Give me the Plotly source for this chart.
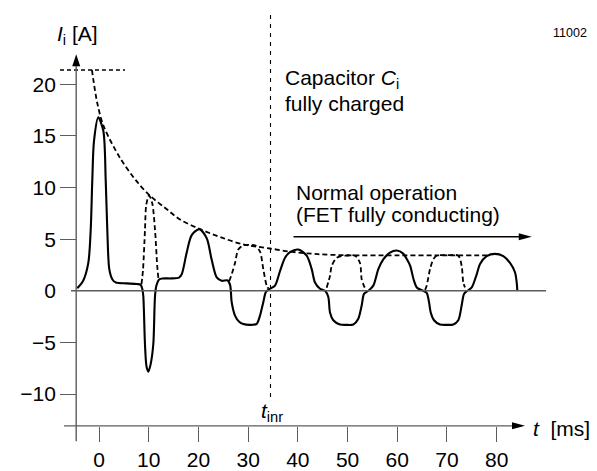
import plotly.graph_objects as go

# ---- input current I_i(t) during inrush, t in ms, I in A ----
t_current = [-4.37, -3.16, -2.15, -1.67, -1.35, -1.01, -0.14, 0.87, 1.35, 1.67, 2.07, 2.7, 3.4,
             5.5, 7.6, 8.35, 8.7, 8.91, 9.25, 9.55, 9.92, 10.35, 10.92, 11.27, 11.55, 12.1,
             12.8, 14.5, 16.1, 16.64, 17.64, 18.65, 20.18, 21.67, 22.67, 23.68, 24.68, 25.9,
             26.4, 26.69, 27.36, 28.2, 29.03, 30.38, 31.72, 32.39, 33.05, 33.59, 34.4, 35.41,
             36.41, 37.42, 38.42, 40.09, 41.78, 42.79, 43.45, 44.46, 45.47, 46.13, 46.47,
             47.13, 48.48, 49.8, 51.16, 52.16, 52.85, 53.31, 54.17, 55.18, 56.19, 57.19,
             58.54, 59.89, 61.2, 62.0, 62.62, 63.29, 63.97, 65.24, 65.92, 66.39, 66.73,
             67.39, 68.6, 69.9, 71.27, 72.28, 72.96, 73.43, 74.09, 74.98, 75.98, 76.65,
             77.99, 79.66, 81.33, 82.68, 83.68, 84.03, 84.15]
i_current = [0.25, 1.0, 2.7, 5.9, 10.7, 14.5, 16.8, 15.5, 10.7, 5.9, 2.1, 1.1, 0.8,
             0.72, 0.66, 0.6, 0.2, -0.5, -5.2, -7.3, -7.84, -7.2, -5.2, -0.5, 0.5, 1.1,
             1.2, 1.2, 1.28, 1.6, 3.7, 5.4, 5.97, 5.1, 3.0, 1.3, 0.97, 1.0,
             0.5, -1.1, -2.4, -3.0, -3.22, -3.3, -3.2, -2.4, -1.1, -0.1, 0.2, 0.5,
             1.9, 3.2, 3.75, 4.0, 3.4, 2.1, 0.8, 0.2, 0.0, -0.6, -2.1,
             -2.85, -3.26, -3.3, -3.26, -2.7, -1.4, -0.3, 0.0, 0.5, 2.1, 3.05,
             3.7, 3.9, 3.6, 3.0, 2.4, 1.1, 0.3, 0.0, -0.2, -1.1, -2.1,
             -2.85, -3.26, -3.3, -3.26, -2.85, -1.4, -0.3, 0.0, 0.33, 1.6, 2.6,
             3.36, 3.58, 3.36, 2.7, 1.8, 0.8, 0.0]

# ---- alternative half-waves once the FET conducts (dashed) ----
t_fet = [8.55, 8.85, 9.25, 9.5, 10.06, 10.7, 11.27, 11.7, 11.95, None,
         26.2, 26.69, 27.36, 28.02, 29.03, 30.2, 31.38, 32.39, 33.05, 33.73, 34.1, None,
         45.8, 46.47, 46.81, 47.82, 49.49, 51.5, 52.5, 52.85, 53.51, None,
         65.6, 65.92, 66.59, 67.25, 67.93, 70.1, 72.28, 72.96, 73.28, 73.63]
i_fet = [0.65, 2.0, 5.9, 8.3, 9.25, 8.5, 5.9, 2.5, 1.2, None,
         0.95, 1.6, 2.7, 4.0, 4.4, 4.45, 4.4, 3.8, 2.1, 0.5, 0.2, None,
         0.3, 1.45, 2.4, 3.2, 3.4, 3.4, 2.7, 1.1, 0.24, None,
         0.1, 0.5, 2.1, 3.05, 3.4, 3.45, 3.4, 2.4, 0.8, 0.33]

# ---- peak-current envelope (dashed) ----
t_env = [-1.42, -0.35, 0.9, 4.2, 7.6, 10.3, 13.9, 16.3, 20.2, 25.0, 29.0, 34.4, 38.4,
         44.0, 49.5, 60.0, 68.0, 78.7]
i_env = [21.4, 18.2, 16.0, 12.9, 10.6, 9.2, 7.8, 6.9, 6.0, 5.1, 4.5, 4.1, 3.8,
         3.55, 3.45, 3.43, 3.43, 3.43]

# initial peak level marker
t_peak_ref = [-7.85, 5.23]
i_peak_ref = [21.4, 21.4]

# inrush end time t_inr [ms]
T_INR = 34.5

x_ticks = [0, 10, 20, 30, 40, 50, 60, 70, 80]
y_ticks = [-10, -5, 5, 10, 15, 20]

FONT = "Liberation Sans, Arial, Helvetica, sans-serif"
AXIS = "#5c5c5c"
FS = 21

fig = go.Figure()
fig.add_trace(go.Scatter(x=t_peak_ref, y=i_peak_ref, mode="lines",
                         line=dict(color="black", width=1.4, dash="4px,3px")))
fig.add_trace(go.Scatter(x=t_env, y=i_env, mode="lines",
                         line=dict(color="black", width=1.8, dash="5px,3px",
                                   shape="spline", smoothing=0.9)))
fig.add_trace(go.Scatter(x=t_fet, y=i_fet, mode="lines", connectgaps=False,
                         line=dict(color="black", width=1.8, dash="5px,3px",
                                   shape="spline", smoothing=0.8)))
fig.add_trace(go.Scatter(x=t_current, y=i_current, mode="lines",
                         line=dict(color="black", width=2.1, shape="spline", smoothing=0.8)))

X_AXIS_Y = -13.086
Y_AXIS_X = -4.587

shapes = [
    # time axis
    dict(type="line", x0=-7.04, x1=85.0, y0=X_AXIS_Y, y1=X_AXIS_Y,
         line=dict(color=AXIS, width=1.4)),
    dict(type="path", xsizemode="pixel", ysizemode="pixel", xanchor=85.7, yanchor=X_AXIS_Y,
         path="M0,0 L-13,3.5 L-13,-3.5 Z", fillcolor="black", line=dict(width=0)),
    # current axis
    dict(type="line", x0=Y_AXIS_X, x1=Y_AXIS_X, y0=-14.585, y1=21.9,
         line=dict(color=AXIS, width=1.4)),
    dict(type="path", xsizemode="pixel", ysizemode="pixel", xanchor=Y_AXIS_X, yanchor=22.93,
         path="M0,0 L-4,-12 L4,-12 Z", fillcolor="black", line=dict(width=0)),
    # zero line
    dict(type="line", x0=-5.63, x1=89.92, y0=0, y1=0, line=dict(color=AXIS, width=1.4)),
    # t_inr marker
    dict(type="line", x0=T_INR, x1=T_INR, y0=-10.29, y1=26.94,
         line=dict(color="black", width=1.1, dash="4px,5px")),
    # normal operation arrow
    dict(type="line", x0=39.13, x1=86.2, y0=5.24, y1=5.24, line=dict(color="black", width=1.4)),
    dict(type="path", xsizemode="pixel", ysizemode="pixel", xanchor=87.05, yanchor=5.24,
         path="M0,0 L-13,3.5 L-13,-3.5 Z", fillcolor="black", line=dict(width=0)),
]

def txt(x, y, text, size=FS, xanchor="left"):
    return dict(x=x, y=y, xref="x", yref="y", text=text, showarrow=False,
                xanchor=xanchor, yanchor="middle", font=dict(family=FONT, size=size, color="black"))

annotations = [
    txt(-8.85, 24.74, "<i>I</i><sub>i</sub> [A]"),
    txt(98.6, 25.0, "11002", size=12.5, xanchor="right"),
    txt(37.0, 20.55, "Capacitor <i>C</i><sub>i</sub>"),
    txt(37.0, 18.15, "fully charged"),
    txt(39.23, 9.56, "Normal operation"),
    txt(39.23, 7.36, "(FET fully conducting)"),
    txt(32.1, -11.7, "<i>t</i><sub>inr</sub>"),
    txt(87.0, -13.3, "<i>t</i>&nbsp;&nbsp;[ms]"),
]

fig.update_layout(
    width=597, height=471, margin=dict(l=0, r=0, t=0, b=0),
    plot_bgcolor="white", paper_bgcolor="white", showlegend=False,
    shapes=shapes, annotations=annotations,
    xaxis=dict(range=[-19.915, 100.18], anchor="free", position=0.0822,
               showline=False, showgrid=False, zeroline=False,
               ticks="outside", ticklen=15, tickwidth=1.4, tickcolor=AXIS,
               tickvals=x_ticks, ticktext=[str(v) for v in x_ticks],
               tickfont=dict(family=FONT, size=FS, color="black")),
    yaxis=dict(range=[-16.78, 28.176], anchor="free", position=0.1276, side="left",
               showline=False, showgrid=False, zeroline=False,
               ticks="outside", ticklen=16, tickwidth=1.4, tickcolor=AXIS,
               tickvals=y_ticks, tickformat="d",
               tickfont=dict(family=FONT, size=FS, color="black")),
    yaxis2=dict(range=[-16.78, 28.176], anchor="free", position=0.1276, side="left",
                overlaying="y", showline=False, showgrid=False, zeroline=False,
                ticks="outside", ticklen=16, tickwidth=1, tickcolor="rgba(0,0,0,0)",
                tickvals=[0], ticktext=["0"],
                tickfont=dict(family=FONT, size=FS, color="black")),
)
# empty trace that activates the second current axis (carries the 0 label)
fig.add_trace(go.Scatter(x=[None], y=[None], yaxis="y2", hoverinfo="skip"))

fig.write_html("out.html")
